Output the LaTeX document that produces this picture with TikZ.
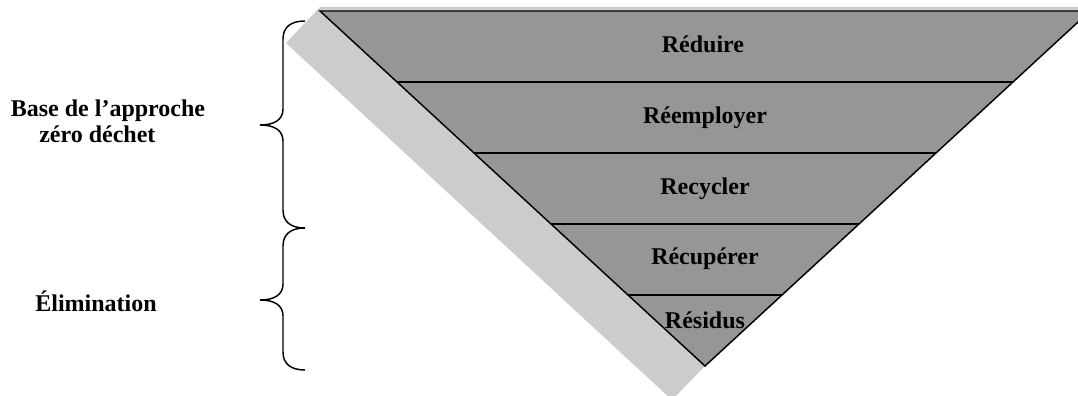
\documentclass[tikz,border=0pt]{standalone}
\usepackage{fontspec}
\setmainfont{Liberation Serif}
\usetikzlibrary{positioning,calc}
\definecolor{grispyr}{RGB}{150,150,150}
\definecolor{grisombre}{RGB}{204,204,204}
\tikzstyle{pyramide} = [fill=grispyr,draw=black,line width=1.1pt,line join=miter]
\tikzstyle{palier} = [draw=black,line width=1.1pt]
\tikzstyle{niveau} = [font=\bfseries\fontsize{18}{21}\selectfont,anchor=base,inner sep=0]
\tikzstyle{etiquette} = [font=\bfseries\fontsize{18}{19}\selectfont,align=center,anchor=base,inner sep=0]
\tikzstyle{accolade} = [draw=black,line width=1.1pt]
\def \pas {0.75pt}

\begin{document}
\begin{tikzpicture}[x=\pas, y=-\pas]
  \useasboundingbox (0,0) rectangle (1078,396);
  \clip (0,0) rectangle (1078,396);
  \coordinate (hg) at (320,11);
  \coordinate (hd) at (1090,11);
  \coordinate (pointe) at (705,366);
  % ombre grise
  \fill[grisombre] (320,7) -- (1095,7) -- (hd) -- (pointe) -- (672,400) -- (286,43) -- cycle;
  % pyramide inversee
  \filldraw[pyramide] (hg) -- (hd) -- (pointe) -- cycle;
  \foreach \y in {82,153,224,295}
    \draw[palier] ($(hg)!{(\y-11)/355}!(pointe)$) -- ($(hd)!{(\y-11)/355}!(pointe)$);
  \node[niveau] (reduire) at (703,52) {Réduire};
  \node[niveau] (reemployer) at (705,123) {Réemployer};
  \node[niveau] (recycler) at (705,194) {Recycler};
  \node[niveau] (recuperer) at (705,264) {Récupérer};
  \node[niveau] (residus) at (705,328) {Résidus};
  % accolades
  \foreach \h/\m/\b in {21/125/228, 228/300/370}
    \draw[accolade] (305,\h) .. controls (291,\h) and (283,\h+6) .. (283,\h+18)
      -- (283,\m-16) .. controls (283,\m-5) and (274,\m) .. (260,\m)
      .. controls (274,\m) and (283,\m+5) .. (283,\m+16)
      -- (283,\b-18) .. controls (283,\b-6) and (291,\b) .. (305,\b);
  \node[etiquette] (base) at (108,142) {Base de l’approche\\\hspace*{-16pt}zéro déchet};
  \node[etiquette] (elimination) at (96,311) {Élimination};
\end{tikzpicture}
\end{document}
